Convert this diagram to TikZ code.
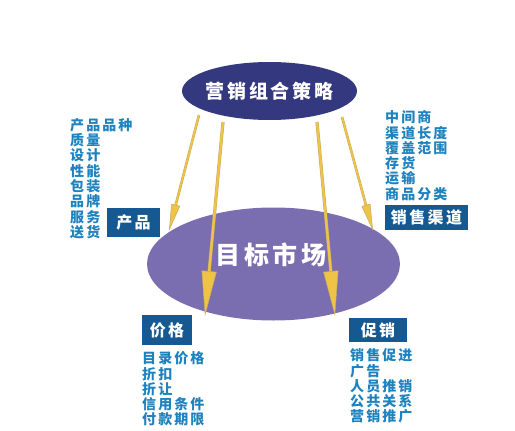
\documentclass[tikz,border=0pt]{standalone}
\usepackage{fontspec}
\newfontfamily\cjk[LetterSpace=15]{Noto Sans CJK SC}
\usetikzlibrary{arrows.meta,shapes.geometric}

\definecolor{topfill}{RGB}{52,56,126}
\definecolor{marketfill}{RGB}{122,110,176}
\definecolor{tagfill}{RGB}{22,88,145}
\definecolor{listblue}{RGB}{30,130,190}
\definecolor{arrowfill}{RGB}{238,196,70}
\definecolor{arrowedge}{RGB}{200,170,100}

\tikzset{
  tag/.style={fill=tagfill, text=white, inner sep=0pt, font=\cjk\bfseries\fontsize{16}{16}\selectfont},
  items/.style={anchor=north west, inner sep=0pt, align=left, text=listblue, font=\cjk\bfseries\fontsize{14}{15.3}\selectfont},
  thinarrow/.style={draw=arrowfill, line width=1.6pt, preaction={draw=arrowedge, line width=2.6pt, -, shorten >=20pt},
    -{Triangle[length=27pt,width=9pt,line width=0.5pt,fill=arrowfill,color=arrowedge]}},
  widearrow/.style={draw=arrowfill, line width=2.2pt, preaction={draw=arrowedge, line width=3.2pt, -, shorten >=30pt},
    -{Triangle[length=45pt,width=15pt,line width=0.5pt,fill=arrowfill,color=arrowedge]}}
}

\begin{document}
\begin{tikzpicture}[x=1pt,y=1pt,yscale=-1,xscale=1]
\useasboundingbox (0,0) rectangle (515,431);

%Shape: Ellipse [strategy]
\node[ellipse, fill=topfill, minimum width=175pt, minimum height=58pt, inner sep=0pt,
  label={[text=white, font=\cjk\bfseries\fontsize{19}{19}\selectfont]center:营销组合策略}] (mix) at (269.5,91) {};

%Shape: Ellipse [target market]
\node[ellipse, fill=marketfill, minimum width=253pt, minimum height=113pt, inner sep=0pt] (market) at (273.5,264) {};

%Arrows from the strategy
\coordinate (p1) at (199,115); \coordinate (q1) at (169,231);
\coordinate (p2) at (223,122); \coordinate (q2) at (205,316);
\coordinate (p3) at (317,122); \coordinate (q3) at (335,316);
\coordinate (p4) at (342,117); \coordinate (q4) at (373,231);
\draw[thinarrow] (p1) -- (q1);
\draw[widearrow] (p2) -- (q2);
\draw[widearrow] (p3) -- (q3);
\draw[thinarrow] (p4) -- (q4);

% Text Node
\node[text=white, inner sep=0pt, font=\cjk\bfseries\fontsize{25}{25}\selectfont] (markettext) at (271,255) {目标市场};

% Tags
\node[tag, minimum width=53pt, minimum height=29pt] (product) at (133.5,222.5) {产品};
\node[tag, minimum width=83pt, minimum height=25pt] (channel) at (426.5,217.5) {销售渠道};
\node[tag, minimum width=50pt, minimum height=30pt] (price) at (167,330) {价格};
\node[tag, minimum width=58pt, minimum height=24pt] (promo) at (378,330) {促销};

% Lists
\node[items] (productlist) at (70,118) {产品品种\\质量\\设计\\性能\\包装\\品牌\\服务\\送货};
\node[items] (channellist) at (385,110.5) {中间商\\渠道长度\\覆盖范围\\存货\\运输\\商品分类};
\node[items] (pricelist) at (142,351.5) {目录价格\\折扣\\折让\\信用条件\\付款期限};
\node[items] (promolist) at (350,348.5) {销售促进\\广告\\人员推销\\公共关系\\营销推广};

\end{tikzpicture}
\end{document}
